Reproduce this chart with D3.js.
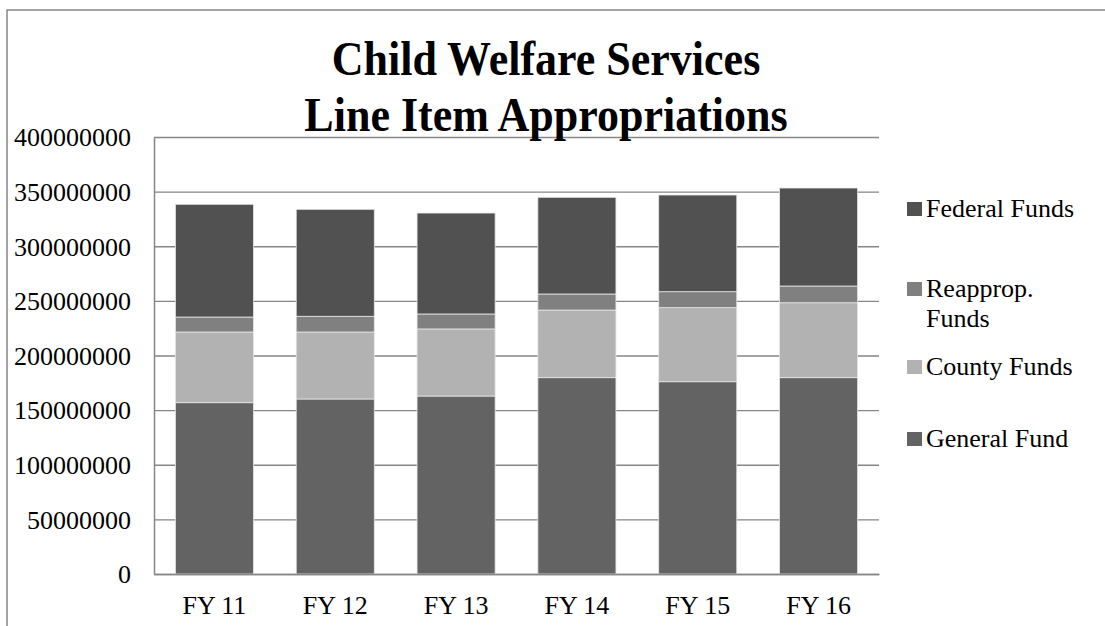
<!DOCTYPE html>
<html>
<head>
<meta charset="utf-8">
<script src="https://cdn.jsdelivr.net/npm/d3@7"></script>
<style>
  html, body { margin: 0; padding: 0; background: #fff; }
  svg { display: block; }
  text { font-family: "Liberation Serif", "Times New Roman", serif; fill: #000; }
</style>
</head>
<body>
<svg id="chart" width="1105" height="626"></svg>
<script>
// ---- data ----
const categories = ["FY 11", "FY 12", "FY 13", "FY 14", "FY 15", "FY 16"];
const generalFund = [156800000, 160200000, 162900000, 179700000, 176000000, 179700000];
const countyFunds = [64700000, 61300000, 61400000, 61900000, 67800000, 68600000];
const reappropFunds = [13700000, 14400000, 13700000, 14700000, 14600000, 15300000];
const federalFunds = [103200000, 97900000, 92400000, 88500000, 88500000, 89700000];
const yTicks = [0, 50000000, 100000000, 150000000, 200000000, 250000000, 300000000, 350000000, 400000000];
const seriesNames = ["General Fund", "County Funds", "Reapprop. Funds", "Federal Funds"];
const seriesColors = ["#636363", "#b2b2b2", "#808080", "#515151"];
const titleLines = ["Child Welfare Services", "Line Item Appropriations"];

// ---- layout ----
const FONT = '"Liberation Serif", "Times New Roman", serif';
const svg = d3.select("#chart");
const W = 1105, H = 626;
const plot = { left: 154, right: 879, top: 137, bottom: 574 };

// outer frame
svg.append("rect")
  .attr("x", 7).attr("y", 10)
  .attr("width", W + 20).attr("height", H + 20)
  .attr("fill", "#fff").attr("stroke", "#868686").attr("stroke-width", 1.5);

const seriesValues = [generalFund, countyFunds, reappropFunds, federalFunds];
const table = categories.map((c, i) => {
  const row = { cat: c };
  seriesNames.forEach((s, k) => row[s] = seriesValues[k][i]);
  return row;
});
const stacked = d3.stack().keys(seriesNames)(table);

const x = d3.scaleBand().domain(categories)
  .range([plot.left, plot.right]).paddingInner(0.354).paddingOuter(0.177);
const y = d3.scaleLinear().domain([0, 400000000]).range([plot.bottom, plot.top]);

// gridlines
svg.append("g").attr("class", "grid")
  .attr("transform", `translate(${plot.left},0)`)
  .call(d3.axisLeft(y).tickValues(yTicks).tickSize(-(plot.right - plot.left)).tickFormat(""))
  .call(g => g.select(".domain").remove())
  .call(g => g.selectAll("line").attr("stroke", "#868686").attr("stroke-width", 1.4));

// bars
const color = d3.scaleOrdinal().domain(seriesNames).range(seriesColors);
svg.append("g").selectAll("g").data(stacked).join("g")
  .attr("fill", d => color(d.key))
  .selectAll("rect").data(d => d).join("rect")
  .attr("x", d => x(d.data.cat))
  .attr("width", x.bandwidth())
  .attr("y", d => y(d[1]))
  .attr("height", d => y(d[0]) - y(d[1]))
  .attr("stroke", "#e6e6e6").attr("stroke-width", 0.8);

// y axis
svg.append("g")
  .attr("transform", `translate(${plot.left},0)`)
  .attr("font-family", FONT)
  .call(d3.axisLeft(y).tickValues(yTicks).tickSize(0).tickPadding(23).tickFormat(d3.format("d")))
  .call(g => g.attr("font-family", FONT).attr("font-size", 26))
  .call(g => g.select(".domain").attr("stroke", "#868686").attr("stroke-width", 1.5))
  .call(g => g.selectAll("text")
    .style("font-family", FONT)
    .style("font-size", "26px").attr("fill", "#000").attr("dy", "0.34em"));

// x axis
svg.append("g")
  .attr("transform", `translate(0,${plot.bottom})`)
  .call(d3.axisBottom(x).tickSize(0).tickPadding(22))
  .call(g => g.attr("font-family", FONT).attr("font-size", 26))
  .call(g => g.select(".domain").attr("stroke", "#868686").attr("stroke-width", 1.5))
  .call(g => g.selectAll("text")
    .style("font-family", FONT)
    .style("font-size", "26px").attr("fill", "#000"));

// title (slightly tall glyphs, as in the reference)
const sy = 1.1;
const title = svg.append("text")
  .attr("text-anchor", "middle")
  .attr("transform", `scale(1,${sy})`)
  .style("font-family", FONT)
  .style("font-size", "44px").style("font-weight", "bold");
titleLines.forEach((t, i) => {
  title.append("tspan").attr("x", 546).attr("y", (75 + i * 56) / sy).text(t);
});

// legend (reverse order: Federal on top)
const legendItems = [
  { name: "Federal Funds", lines: ["Federal Funds"], y: 217 },
  { name: "Reapprop. Funds", lines: ["Reapprop.", "Funds"], y: 297 },
  { name: "County Funds", lines: ["County Funds"], y: 375 },
  { name: "General Fund", lines: ["General Fund"], y: 447 }
];
const lg = svg.append("g");
legendItems.forEach(it => {
  lg.append("rect")
    .attr("x", 907).attr("y", it.y - 15)
    .attr("width", 15).attr("height", 14)
    .attr("fill", color(it.name));
  const t = lg.append("text").style("font-family", FONT).style("font-size", "26px");
  it.lines.forEach((l, i) => {
    t.append("tspan").attr("x", 926).attr("y", it.y + i * 30).text(l);
  });
});
</script>
</body>
</html>
